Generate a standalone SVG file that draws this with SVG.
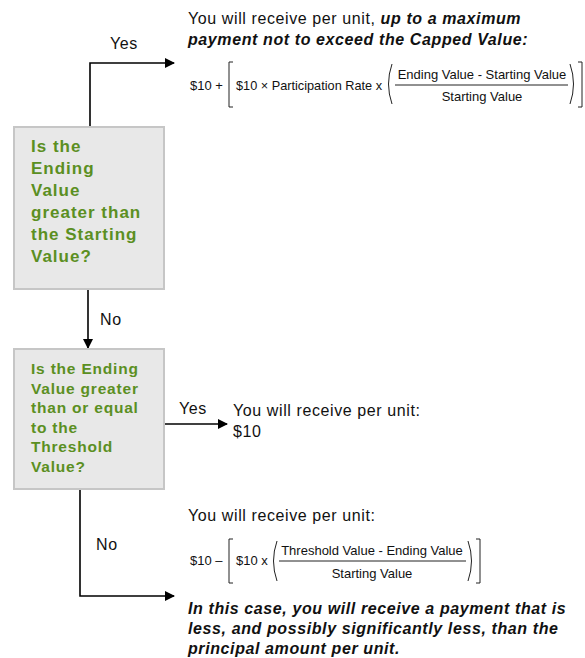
<svg xmlns="http://www.w3.org/2000/svg" width="585" height="658" viewBox="0 0 585 658">
<style>
.box{fill:#e8e8e8;stroke:#c6c6c6;stroke-width:2}
.q{font-family:"Liberation Sans",Arial,sans-serif;font-weight:bold;fill:#5b8f22}
.t{font-family:"Liberation Sans",Arial,sans-serif;fill:#111;font-size:16px;letter-spacing:0.6px}
.bi{font-weight:bold;font-style:italic}
.f{font-family:"Liberation Sans",Arial,sans-serif;fill:#111;font-size:13px}
.c{fill:none;stroke:#000;stroke-width:1.6}
.br{fill:none;stroke:#222;stroke-width:1}
</style>
<defs>
<marker id="ah" viewBox="0 0 10 10" refX="9" refY="5" markerWidth="10" markerHeight="10" markerUnits="userSpaceOnUse" orient="auto">
<path d="M0,0 L10,5 L0,10 z" fill="#000"/>
</marker>
</defs>
<g id="connectors">
<path class="c" d="M90,127 V63 H174" marker-end="url(#ah)"/>
<path class="c" d="M88,289 V348" marker-end="url(#ah)"/>
<path class="c" d="M164,424 H227" marker-end="url(#ah)"/>
<path class="c" d="M80,489 V596 H174" marker-end="url(#ah)"/>
<text class="t" x="110" y="49">Yes</text>
<text class="t" x="100" y="325">No</text>
<text class="t" x="179" y="414">Yes</text>
<text class="t" x="96" y="550">No</text>
</g>
<g id="q1">
<rect class="box" x="14" y="127" width="150" height="162"/>
<text class="q" font-size="17" letter-spacing="1">
<tspan x="31" y="152">Is the</tspan>
<tspan x="31" y="174">Ending</tspan>
<tspan x="31" y="196">Value</tspan>
<tspan x="31" y="218">greater than</tspan>
<tspan x="31" y="240">the Starting</tspan>
<tspan x="31" y="262">Value?</tspan>
</text>
</g>
<g id="q2">
<rect class="box" x="14" y="349" width="150" height="140"/>
<text class="q" font-size="15.5" letter-spacing="0.8">
<tspan x="31" y="374">Is the Ending</tspan>
<tspan x="31" y="394">Value greater</tspan>
<tspan x="31" y="413">than or equal</tspan>
<tspan x="31" y="433">to the</tspan>
<tspan x="31" y="452">Threshold</tspan>
<tspan x="31" y="472">Value?</tspan>
</text>
</g>
<g id="r1">
<text class="t" x="188" y="24">You will receive per unit, <tspan class="bi">up to a maximum</tspan></text>
<text class="t bi" x="188" y="45">payment not to exceed the Capped Value:</text>
<text class="f" x="190" y="90">$10 +</text>
<path class="br" d="M233,62 H229 V107 H233"/>
<text class="f" x="236" y="90" textLength="146" lengthAdjust="spacingAndGlyphs">$10 × Participation Rate  x</text>
<path class="br" d="M392,64 Q385,84 392,104"/>
<text class="f" x="482" y="79" text-anchor="middle">Ending Value  - Starting Value</text>
<line x1="395" y1="85" x2="568" y2="85" stroke="#222" stroke-width="1"/>
<text class="f" x="482" y="101" text-anchor="middle">Starting Value</text>
<path class="br" d="M570,64 Q577,84 570,104"/>
<path class="br" d="M578,62 H582 V107 H578"/>
</g>
<g id="r2">
<text class="t" x="233" y="416">You will receive per unit:</text>
<text class="t" x="233" y="437">$10</text>
</g>
<g id="r3">
<text class="t" x="188" y="521">You will receive per unit:</text>
<text class="f" x="190" y="565">$10 –</text>
<path class="br" d="M233,539 H229 V583 H233"/>
<text class="f" x="236" y="565">$10 x</text>
<path class="br" d="M277,541 Q270,561 277,581"/>
<text class="f" x="372" y="555" text-anchor="middle">Threshold  Value - Ending Value</text>
<line x1="279" y1="561" x2="466" y2="561" stroke="#222" stroke-width="1"/>
<text class="f" x="372" y="578" text-anchor="middle">Starting Value</text>
<path class="br" d="M468,541 Q475,561 468,581"/>
<path class="br" d="M476,539 H480 V583 H476"/>
<text class="t bi" x="188" y="614">In this case, you will receive a payment that is</text>
<text class="t bi" x="188" y="634">less, and possibly significantly less, than the</text>
<text class="t bi" x="188" y="654">principal amount per unit.</text>
</g>
</svg>
